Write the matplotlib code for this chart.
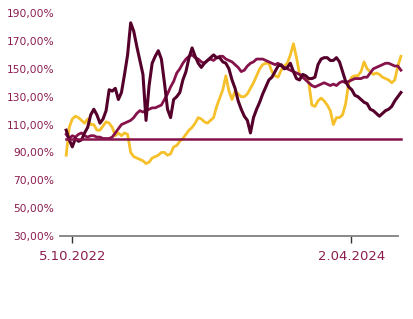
import matplotlib
matplotlib.use("Agg")
import matplotlib.pyplot as plt
import pandas as pd

# values every 6 days starting 23.09.2022, in %
start = "2022-09-23"
dark = [106, 99, 94, 100, 98, 99, 104, 108, 117, 121,
        117, 111, 114, 120, 135, 134, 136, 128, 133, 146,
        160, 183, 177, 166, 156, 146, 113, 138, 154, 159,
        163, 157, 140, 121, 115, 128, 130, 133, 142, 148,
        158, 165, 159, 154, 151, 154, 156, 158, 160, 158,
        158, 155, 154, 150, 142, 136, 127, 121, 116, 113,
        104, 115, 121, 126, 132, 137, 142, 144, 148, 152,
        153, 150, 151, 154, 148, 143, 142, 146, 145, 143,
        143, 144, 153, 157, 158, 158, 156, 156, 158, 155,
        148, 141, 137, 135, 131, 130, 128, 126, 125, 121,
        120, 118, 116, 118, 120, 121, 123, 127, 130, 133]
crimson = [103, 100, 102, 101, 103, 104, 102, 101, 102, 102,
           101, 101, 100, 100, 100, 101, 104, 107, 110, 111,
           112, 113, 115, 118, 120, 119, 120, 121, 122, 122,
           123, 124, 128, 132, 137, 141, 147, 150, 154, 157,
           159, 160, 158, 157, 155, 154, 156, 157, 156, 158,
           159, 159, 157, 156, 155, 153, 151, 148, 149, 152,
           154, 155, 157, 157, 157, 156, 155, 154, 153, 154,
           152, 151, 150, 149, 148, 147, 146, 144, 142, 140,
           138, 137, 138, 139, 140, 139, 138, 139, 138, 140,
           141, 140, 141, 142, 143, 143, 143, 144, 144, 147,
           150, 151, 152, 153, 154, 154, 153, 152, 152, 149]
yellow = [88, 108, 114, 116, 115, 113, 111, 114, 110, 110,
          106, 106, 109, 112, 111, 108, 102, 104, 102, 104,
          103, 90, 87, 86, 85, 84, 82, 83, 86, 87,
          88, 90, 90, 88, 89, 94, 95, 98, 100, 103,
          106, 108, 111, 115, 114, 112, 111, 113, 115, 123,
          129, 135, 145, 134, 128, 134, 132, 130, 130, 132,
          136, 140, 145, 150, 153, 154, 154, 148, 145, 144,
          149, 152, 154, 160, 168, 158, 146, 144, 144, 140,
          124, 123, 127, 129, 127, 124, 120, 110, 115, 115,
          117, 125, 140, 144, 145, 145, 148, 155, 150, 148,
          146, 147, 146, 144, 143, 142, 140, 142, 152, 159]
base_level = 100

tick_dates = ["2022-10-05", "2024-04-02"]
tick_labels = ["5.10.2022", "2.04.2024"]
y_ticks = [30, 50, 70, 90, 110, 130, 150, 170, 190]

dates = pd.date_range(start, periods=len(dark), freq="6D")

label_col = "#8b1c4f"

fig = plt.figure(figsize=(4.14, 3.19), dpi=100)
ax = fig.add_axes([0.145, 0.26, 0.816, 0.699])

ax.plot(dates, yellow, color="#f5c02a", lw=2.0, clip_on=False, zorder=2)
ax.plot(dates, crimson, color="#85124a", lw=2.0, clip_on=False, zorder=3)
ax.plot(dates, dark, color="#55002b", lw=2.2, clip_on=False, zorder=4)
ax.plot([dates[0], dates[-1]], [base_level, base_level], color="#85124a",
        lw=1.8, clip_on=False, zorder=5)

ax.set_xlim(pd.Timestamp("2022-09-11"), pd.Timestamp("2024-07-02"))
ax.set_ylim(30, 190)

ax.set_yticks(y_ticks)
ax.set_yticklabels([f"{v},00%" for v in y_ticks])
ax.set_xticks(pd.to_datetime(tick_dates))
ax.set_xticklabels(tick_labels)

for s in ["top", "right", "left"]:
    ax.spines[s].set_visible(False)
ax.spines["bottom"].set_color("#808080")
ax.spines["bottom"].set_linewidth(1.3)

ax.tick_params(axis="y", length=0, pad=4, labelsize=7.7, labelcolor=label_col)
ax.tick_params(axis="x", length=5, width=1, color="#333333", direction="out",
               pad=5, labelsize=9.5, labelcolor=label_col)

fig.savefig("out.png", dpi=100)
